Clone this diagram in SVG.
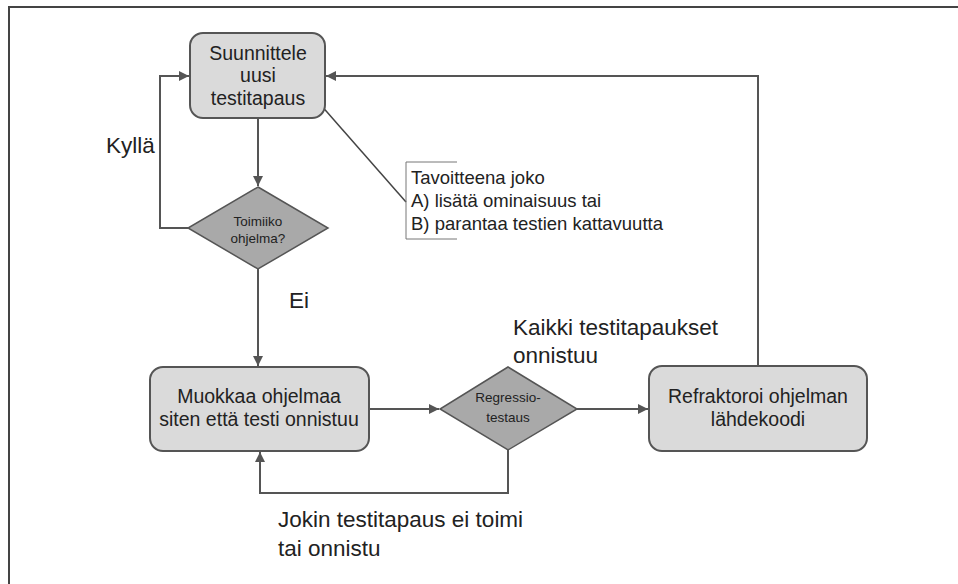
<svg xmlns="http://www.w3.org/2000/svg" width="958" height="584" viewBox="0 0 958 584">
<defs>
<marker id="arr" viewBox="0 0 10 10" refX="10" refY="5" markerWidth="10" markerHeight="10" markerUnits="userSpaceOnUse" orient="auto">
<path d="M0,0 L10,5 L0,10 z" fill="#555"/>
</marker>
<style>
.box{fill:#dadada;stroke:#555;stroke-width:2}
.dia{fill:#a9a9a9;stroke:#555;stroke-width:1.5}
.con{fill:none;stroke:#555;stroke-width:2}
.t{font-family:"Liberation Sans",Arial,sans-serif;fill:#222}
.big{font-size:19.5px}
.sm{font-size:13.5px}
.lbl{font-size:22.5px}
.note{font-size:18.5px}
</style>
</defs>
<rect width="958" height="584" fill="#fff"/>
<path d="M9,584 V7 H958" fill="none" stroke="#444" stroke-width="2"/>

<g id="connectors">
<line class="con" x1="258" y1="118" x2="258" y2="186" marker-end="url(#arr)"/>
<polyline class="con" points="188,228 160,228 160,76 189,76" marker-end="url(#arr)"/>
<line class="con" x1="258" y1="269" x2="258" y2="366" marker-end="url(#arr)"/>
<line class="con" x1="369" y1="409" x2="439" y2="409" marker-end="url(#arr)"/>
<line class="con" x1="577" y1="409" x2="648" y2="409" marker-end="url(#arr)"/>
<polyline class="con" points="758,366 758,76 326,76" marker-end="url(#arr)"/>
<polyline class="con" points="508,450 508,493 260,493 260,452" marker-end="url(#arr)"/>
<line x1="298" y1="79" x2="406" y2="202" stroke="#444" stroke-width="1.5"/>
</g>

<g id="n_suunnittele">
<rect class="box" x="190" y="33" width="135" height="85" rx="13"/>
<text class="t big" x="258" y="60" text-anchor="middle">Suunnittele</text>
<text class="t big" x="258" y="82" text-anchor="middle">uusi</text>
<text class="t big" x="258" y="105" text-anchor="middle">testitapaus</text>
</g>

<g id="n_toimiiko">
<polygon class="dia" points="258,187 328,228 258,269 188,228"/>
<text class="t sm" x="258" y="226" text-anchor="middle">Toimiiko</text>
<text class="t sm" x="258" y="243" text-anchor="middle">ohjelma?</text>
</g>

<g id="n_muokkaa">
<rect class="box" x="150" y="367" width="219" height="84" rx="13"/>
<text class="t big" x="259" y="403" text-anchor="middle">Muokkaa ohjelmaa</text>
<text class="t big" x="259" y="426" text-anchor="middle">siten että testi onnistuu</text>
</g>

<g id="n_regressio">
<polygon class="dia" points="508,367 577,409 508,450 440,409"/>
<text class="t sm" x="508" y="402" text-anchor="middle">Regressio-</text>
<text class="t sm" x="508" y="422" text-anchor="middle">testaus</text>
</g>

<g id="n_refraktoroi">
<rect class="box" x="649" y="366" width="218" height="85" rx="13"/>
<text class="t big" x="758" y="403" text-anchor="middle">Refraktoroi ohjelman</text>
<text class="t big" x="758" y="426" text-anchor="middle">lähdekoodi</text>
</g>

<g id="n_note">
<path d="M457,162 H406 V239 H457" fill="none" stroke="#777" stroke-width="1"/>
<text class="t note" x="411" y="184">Tavoitteena joko</text>
<text class="t note" x="411" y="207">A) lisätä ominaisuus tai</text>
<text class="t note" x="411" y="230">B) parantaa testien kattavuutta</text>
</g>

<g id="labels">
<text class="t lbl" x="106" y="153">Kyllä</text>
<text class="t lbl" x="289" y="308">Ei</text>
<text class="t lbl" x="513" y="335">Kaikki testitapaukset</text>
<text class="t lbl" x="513" y="363">onnistuu</text>
<text class="t lbl" x="278" y="527">Jokin testitapaus ei toimi</text>
<text class="t lbl" x="278" y="556">tai onnistu</text>
</g>
</svg>
